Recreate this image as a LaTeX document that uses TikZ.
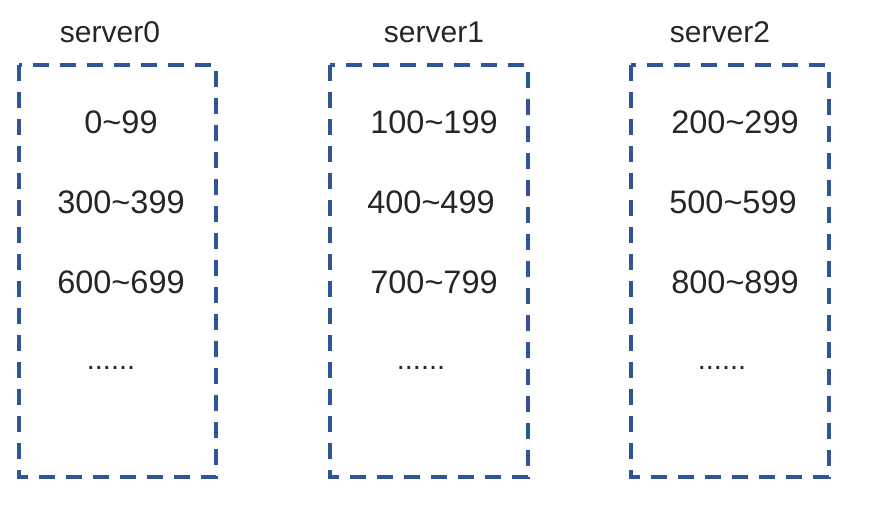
\documentclass[tikz,border=0pt]{standalone}
\usepackage{fontspec}
\setmainfont{Liberation Sans}
\usetikzlibrary{positioning}

\definecolor{boxblue}{RGB}{47,85,151}
\definecolor{txtgray}{RGB}{38,38,38}

\tikzset{
  serverbox/.style={draw=boxblue, line width=4pt, dash pattern=on 16pt off 11pt, line cap=butt},
  servertitle/.style={text=txtgray, font=\fontsize{30}{32}\selectfont, inner sep=0pt},
  rangetext/.style={text=txtgray, font=\fontsize{32.5}{34}\selectfont, inner sep=0pt},
  moretext/.style={text=txtgray, font=\fontsize{29}{31}\selectfont, inner sep=0pt}
}

\begin{document}
\begin{tikzpicture}[x=1pt, y=-1pt]
      \useasboundingbox (0,0) rectangle (882,506);

      % the three servers
      \draw[serverbox] (19,65) rectangle (216,477);
      \draw[serverbox] (330,65) rectangle (528,477);
      \draw[serverbox] (631,65) rectangle (829,477);

      \node[servertitle] (s0) at (110,32) {server0};
      \node[servertitle] (s1) at (434,32) {server1};
      \node[servertitle] (s2) at (720,32) {server2};

      % ranges held by server0
      \node[rangetext] (r0a) at (121,122) {0\textasciitilde 99};
      \node[rangetext] (r0b) at (121,202) {300\textasciitilde 399};
      \node[rangetext] (r0c) at (121,282) {600\textasciitilde 699};
      \node[moretext] (r0d) at (111,368) {......};

      % ranges held by server1
      \node[rangetext] (r1a) at (434,122) {100\textasciitilde 199};
      \node[rangetext] (r1b) at (431,202) {400\textasciitilde 499};
      \node[rangetext] (r1c) at (434,282) {700\textasciitilde 799};
      \node[moretext] (r1d) at (421,368) {......};

      % ranges held by server2
      \node[rangetext] (r2a) at (735,122) {200\textasciitilde 299};
      \node[rangetext] (r2b) at (733,202) {500\textasciitilde 599};
      \node[rangetext] (r2c) at (735,282) {800\textasciitilde 899};
      \node[moretext] (r2d) at (722,368) {......};
\end{tikzpicture}
\end{document}
